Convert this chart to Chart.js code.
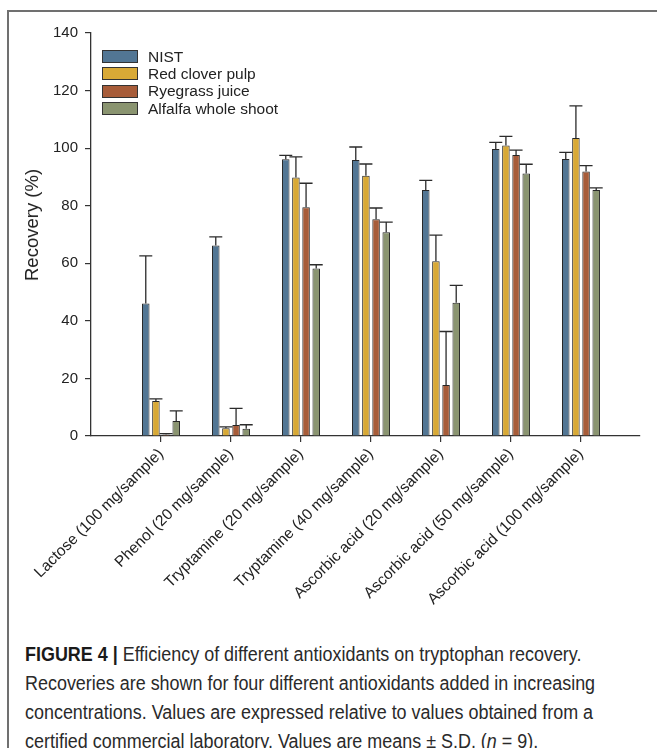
<!DOCTYPE html>
<html>
<head>
<meta charset="utf-8">
<script src="https://cdn.jsdelivr.net/npm/chart.js@4.4.0/dist/chart.umd.min.js"></script>
<style>
  body { margin: 0; background: #fff; width: 657px; height: 748px; overflow: hidden; position: relative;
         font-family: 'Liberation Sans', Arial, sans-serif; }
  .frame { position: absolute; left: 7px; top: 10px; width: 700px; height: 800px;
           border-top: 2px solid #707070; border-left: 2px solid #707070; }
  #wrap { position: absolute; left: 0; top: 0; width: 657px; height: 620px; }
  .ytitle { position: absolute; left: 32px; top: 225px; transform: translate(-50%, -50%) rotate(-90deg);
            font-size: 18.5px; color: #222; white-space: nowrap; }
  .legend { position: absolute; left: 102px; top: 48px; }
  .legend .row { height: 17.3px; display: flex; align-items: center; font-size: 15.5px; color: #222; }
  .legend .box { width: 34px; height: 11px; border: 1px solid #333; margin-right: 10px; }
  .caption { position: absolute; left: 25px; top: 640px; white-space: nowrap;
             transform: scaleX(0.92); transform-origin: left top;
             font-size: 19.5px; line-height: 29px; color: #2a2a2a; }
  .caption b { font-weight: bold; color: #1a1a1a; }
</style>
</head>
<body>
<div class="frame"></div>
<div id="wrap"><canvas id="chart"></canvas></div>
<div class="ytitle">Recovery (%)</div>
<div class="legend" id="legend"></div>
<div class="caption">
  <b>FIGURE 4 |</b> Efficiency of different antioxidants on tryptophan recovery.<br>
  Recoveries are shown for four different antioxidants added in increasing<br>
  concentrations. Values are expressed relative to values obtained from a<br>
  certified commercial laboratory. Values are means ± S.D. (<i>n</i> = 9).
</div>
<script>
// ------------------- Data -------------------
const categories = [
  'Lactose (100 mg/sample)', 'Phenol (20 mg/sample)', 'Tryptamine (20 mg/sample)',
  'Tryptamine (40 mg/sample)', 'Ascorbic acid (20 mg/sample)', 'Ascorbic acid (50 mg/sample)',
  'Ascorbic acid (100 mg/sample)'
];
const seriesNames = ['NIST', 'Red clover pulp', 'Ryegrass juice', 'Alfalfa whole shoot'];
const seriesColors = ['#527694', '#d8a936', '#a75c39', '#8a9470'];

const nist      = [46.0, 66.2, 96.1, 95.9, 85.5, 99.7, 96.2];
const redClover = [12.2, 2.7, 89.8, 90.4, 60.7, 100.9, 103.5];
const ryegrass  = [0.5, 3.8, 79.5, 75.3, 17.7, 97.6, 91.9];
const alfalfa   = [5.2, 2.5, 58.2, 70.8, 46.3, 91.2, 85.5];

const nistSd      = [16.6, 3.0, 1.4, 4.5, 3.3, 2.3, 2.3];
const redCloverSd = [0.7, 0.5, 7.2, 4.1, 9.1, 3.2, 11.2];
const ryegrassSd  = [0.3, 5.8, 8.3, 3.9, 18.6, 1.7, 2.0];
const alfalfaSd   = [3.5, 1.4, 1.3, 3.5, 6.0, 3.2, 0.7];

const yTicks = [0, 20, 40, 60, 80, 100, 120, 140];

const means = [nist, redClover, ryegrass, alfalfa];
const sds = [nistSd, redCloverSd, ryegrassSd, alfalfaSd];

// ------------------- Plugin: upper error bars -------------------
const errorBars = {
  id: 'errorBars',
  afterDatasetsDraw(chart) {
    const { ctx, scales: { y } } = chart;
    ctx.save();
    ctx.strokeStyle = '#2b2b2b';
    ctx.lineWidth = 1.3;
    chart.data.datasets.forEach((ds, di) => {
      const meta = chart.getDatasetMeta(di);
      meta.data.forEach((bar, i) => {
        const top = y.getPixelForValue(ds.data[i].y + ds.sd[i]);
        ctx.beginPath();
        ctx.moveTo(bar.x, bar.y);
        ctx.lineTo(bar.x, top);
        ctx.moveTo(bar.x - 6.5, top);
        ctx.lineTo(bar.x + 6.5, top);
        ctx.stroke();
      });
    });
    ctx.restore();
  }
};

const tickFont = { family: "'Liberation Sans', Arial, sans-serif", size: 15 };

new Chart(document.getElementById('chart'), {
  type: 'bar',
  data: {
    datasets: seriesNames.map((name, s) => ({
      label: name,
      data: means[s].map((v, i) => ({ x: i, y: v })),
      sd: sds[s],
      backgroundColor: seriesColors[s],
      borderColor: '#262626',
      borderWidth: 1,
      borderSkipped: 'bottom',
      categoryPercentage: 0.58,
      barPercentage: 0.74
    }))
  },
  options: {
    responsive: true,
    maintainAspectRatio: false,
    animation: false,
    layout: { padding: { left: 0, right: 17, top: 33, bottom: 0 } },
    plugins: { legend: { display: false }, tooltip: { enabled: false } },
    scales: {
      x: {
        type: 'linear',
        offset: false,
        min: -1.0,
        max: 6.843,
        afterBuildTicks: scale => { scale.ticks = categories.map((_, i) => ({ value: i })); },
        afterFit: scale => { scale.height = 184; },
        grid: { display: true, drawOnChartArea: false, tickLength: 6, color: '#333', lineWidth: 1.2, offset: false },
        border: { color: '#333', width: 1.3 },
        ticks: {
          autoSkip: false, minRotation: 45, maxRotation: 45, padding: 3,
          color: '#222', font: { family: tickFont.family, size: 15.5 },
          callback: v => categories[v]
        }
      },
      y: {
        min: 0,
        max: 140,
        afterBuildTicks: scale => { scale.ticks = yTicks.map(v => ({ value: v })); },
        afterFit: scale => { scale.width = 91; },
        grid: { display: true, drawOnChartArea: false, tickLength: 6, color: '#333', lineWidth: 1.2 },
        border: { color: '#333', width: 1.3 },
        ticks: { padding: 7, color: '#222', font: tickFont }
      }
    }
  },
  plugins: [errorBars]
});

// ------------------- Legend (HTML) -------------------
const legend = document.getElementById('legend');
seriesNames.forEach((name, s) => {
  const row = document.createElement('div');
  row.className = 'row';
  row.innerHTML = `<span class="box" style="background:${seriesColors[s]}"></span>${name}`;
  legend.appendChild(row);
});
</script>
</body>
</html>
